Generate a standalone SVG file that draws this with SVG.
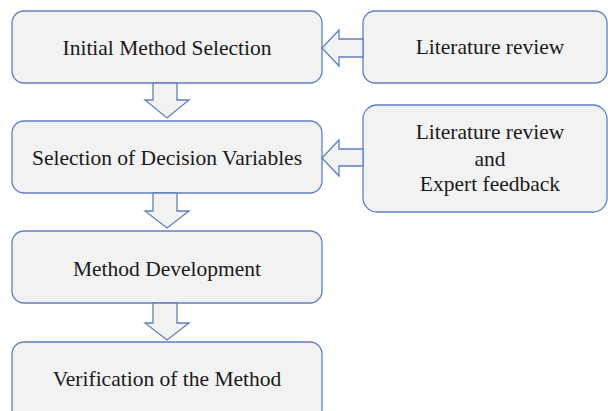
<svg xmlns="http://www.w3.org/2000/svg" width="608" height="411" viewBox="0 0 608 411">
<style>
.box{fill:#f2f2f2;stroke:#5f80c0;stroke-width:1.3}
.arr{fill:#f2f2f2;stroke:#5f80c0;stroke-width:1.3;stroke-linejoin:miter}
text{font-family:"Liberation Serif","Times New Roman",serif;font-size:21.5px;fill:#1a1a1a;text-anchor:middle}
</style>
<rect width="608" height="411" fill="#ffffff"/>
<g id="initial-method-selection">
<rect class="box" x="12" y="11" width="310" height="72" rx="12"/>
<text x="167" y="55">Initial Method Selection</text>
</g>
<g id="selection-of-decision-variables">
<rect class="box" x="12" y="121" width="310" height="72" rx="12"/>
<text x="167" y="165">Selection of Decision Variables</text>
</g>
<g id="method-development">
<rect class="box" x="12" y="231" width="310" height="72" rx="12"/>
<text x="167" y="276">Method Development</text>
</g>
<g id="verification-of-the-method">
<rect class="box" x="12" y="342" width="310" height="80" rx="12"/>
<text x="167" y="386">Verification of the Method</text>
</g>
<g id="literature-review">
<rect class="box" x="363" y="11" width="244" height="72" rx="12"/>
<text x="490" y="54">Literature review</text>
</g>
<g id="literature-review-and-expert-feedback">
<rect class="box" x="363" y="105" width="244" height="107" rx="14"/>
<text x="490" y="139">Literature review</text>
<text x="490" y="166">and</text>
<text x="490" y="191">Expert feedback</text>
</g>
<g id="connectors">
<polygon class="arr" points="153,83 177,83 177,100 189,100 167,118 145,100 153,100 153,83"/>
<polygon class="arr" points="153,193 177,193 177,211 189,211 167,228 145,211 153,211 153,193"/>
<polygon class="arr" points="153,303 177,303 177,323 189,323 167,340 145,323 153,323 153,303"/>
<polygon class="arr" points="363,39 339,39 339,30 322,48 339,66 339,57 363,57"/>
<polygon class="arr" points="363,149 339,149 339,140 322,158 339,176 339,166 363,166"/>
</g>
</svg>
